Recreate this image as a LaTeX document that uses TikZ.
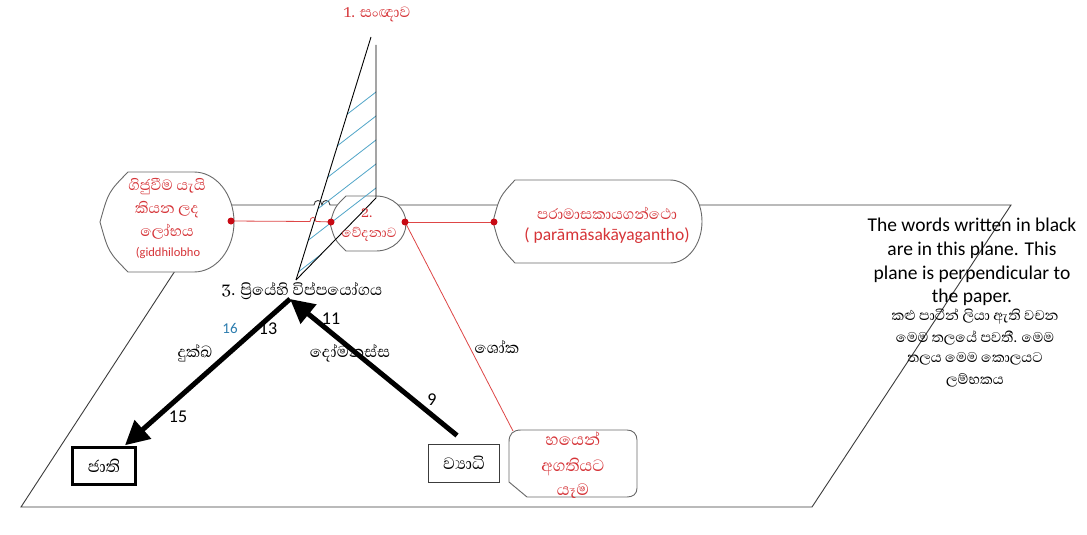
\documentclass[tikz,border=0pt]{standalone}
\usepackage{fontspec}
\setmainfont{Carlito}
\newfontfamily\sinhfont[Script=Sinhala]{Abhaya Libre}
\usetikzlibrary{arrows.meta,calc}
\definecolor{redtxt}{RGB}{214,52,56}
\definecolor{reddot}{RGB}{200,10,20}
\definecolor{redline}{RGB}{222,70,70}
\definecolor{hatchc}{RGB}{80,165,200}
\definecolor{outl}{RGB}{105,105,105}
\definecolor{planec}{RGB}{60,60,60}
\definecolor{numblue}{RGB}{45,125,175}
\newcommand{\dispshape}[7]{%
 \draw[#1] ({#2},{(#3+#5)/2}) .. controls ({#2+0.3*#6},{#3+0.2*(#5-#3)}) .. ({#2+#6},#3)
  -- ({#4-#7},#3) .. controls ({#4-0.448*#7},#3) and (#4,{(#3+#5)/2-0.276*(#5-#3)}) .. (#4,{(#3+#5)/2})
  .. controls (#4,{(#3+#5)/2+0.276*(#5-#3)}) and ({#4-0.448*#7},#5) .. ({#4-#7},#5)
  -- ({#2+#6},#5) .. controls ({#2+0.3*#6},{#5-0.2*(#5-#3)}) .. ({#2},{(#3+#5)/2}) -- cycle;}
\begin{document}
\begin{tikzpicture}[x=1pt,y=-1pt,
  planeline/.style={draw=planec,line width=0.9pt},
  shapeline/.style={draw=outl,line width=0.9pt,fill=white},
  redconn/.style={draw=redline,line width=0.8pt},
  rdot/.style={circle,fill=reddot,inner sep=0pt,minimum size=7pt},
  redsin/.style={font=\sinhfont\fontsize{19}{21}\selectfont,text=redtxt,inner sep=0pt},
  redlat/.style={font=\fontsize{12.5}{14}\selectfont,text=redtxt,inner sep=0pt},
  blacksin/.style={font=\sinhfont\fontsize{20}{22}\selectfont,text=black,inner sep=0pt},
  numlab/.style={font=\fontsize{18}{20}\selectfont,inner sep=0pt},
  engline/.style={font=\fontsize{19.5}{21}\selectfont,inner sep=0pt},
  sinline/.style={font=\sinhfont\fontsize{18}{20}\selectfont,inner sep=0pt},
  boxtext/.style={font=\sinhfont\fontsize{21}{23}\selectfont},
  bigarrow/.style={line width=5pt,-{Triangle[length=24pt,width=24pt]}},
  hatchline/.style={draw=hatchc,line width=0.8pt}]
\useasboundingbox (0,0) rectangle (1087,535);
\fill[white] (0,0) rectangle (1087,535);
% plane
\coordinate (ptl) at (218,205);
\coordinate (ptr) at (1011,205);
\coordinate (pbr) at (812,507);
\coordinate (pbl) at (21,507);
\draw[planeline] (ptl) -- (314,205) .. controls (314,199) and (322,199) .. (322,205)
  .. controls (322,199) and (330,199) .. (330,205) -- (ptr) -- (pbr) -- (pbl) -- cycle;
% red connector lobha -> vedana (with hop)
\coordinate (d1) at (231,221);
\coordinate (d2) at (331,222);
\coordinate (d3) at (405,222);
\coordinate (d4) at (494,222);
\draw[redconn] (d1) -- (310,221.5) .. controls (310,216) and (316,216) .. (316,221.5) -- (d2);
\draw[redconn] (d3) -- (d4);
% shapes
\dispshape{shapeline}{100}{172}{234}{272}{28}{40}
\dispshape{shapeline}{330}{196}{406}{251}{16}{30}
\dispshape{shapeline}{493}{180}{702}{263}{22}{32}
% bhayena box
\draw[shapeline] (509,442) .. controls (509,434) and (513,430) .. (521,430) -- (627,430)
  .. controls (633,430) and (637,434) .. (637,440) -- (637,488) .. controls (637,494) and (633,497) .. (627,497)
  -- (527,497) -- (509,482) -- cycle;
\coordinate (bhtop) at (513,431);
\draw[redconn] (d3) -- (bhtop);
% triangle hatch
\begin{scope}
\clip (371,37) -- (376,45) -- (376,198) -- (296,280) -- cycle;
\foreach \k in {0,...,12} {
  \draw[hatchline] (386,{92+24*\k-7.7}) -- (236,{92+24*\k+108});
}
\end{scope}
\draw[line width=0.9pt] (371,37) -- (296,280);
\draw[line width=0.9pt] (376,45) -- (376,198) -- (296,280);
% dots
\node[rdot] at (d1) {};
\node[rdot] at (d2) {};
\node[rdot] at (d3) {};
\node[rdot] at (d4) {};
% texts
\node[redsin] (t1) at (377,14) {1. සංඥාව};
\node[redsin] (lb1) at (167,187) {ගිජුවීම යැයි};
\node[redsin] (lb2) at (167,210) {කියන ලද};
\node[redsin] (lb3) at (167,232) {ලෝභය};
\node[redlat] (lb4) at (168,253) {(giddhilobho};
\node[redsin,font=\sinhfont\fontsize{17}{19}\selectfont] (v1) at (367,213) {2.};
\node[redsin,font=\sinhfont\fontsize{17}{19}\selectfont] (v2) at (369,234) {වේදනාව};
\node[redsin] (pm1) at (607,213) {පරාමාසකායගන්ථො};
\node[redlat,font=\fontsize{17.5}{19}\selectfont] (pm2) at (607,236) {( parāmāsakāyagantho)};
\node[redsin,font=\sinhfont\fontsize{21}{23}\selectfont] (bh1) at (573,439) {හයෙන්};
\node[redsin,font=\sinhfont\fontsize{21}{23}\selectfont] (bh2) at (573,467) {අගතියට};
\node[redsin,font=\sinhfont\fontsize{21}{23}\selectfont] (bh3) at (573,491) {යෑම};
% boxes
\node[draw=black,line width=2.5pt,minimum width=63pt,minimum height=37pt,inner sep=0pt,boxtext] (jati) at (104,466) {ජාති};
\node[draw=planec,line width=1pt,minimum width=71pt,minimum height=38pt,inner sep=0pt,boxtext] (vyadi) at (464,463) {ව්^^^^200dයාධි};
% arrows
\coordinate (apex) at (290,299);
\draw[bigarrow] (apex) -- ($(jati.north)+(21,-1)$);
\draw[bigarrow] ($(vyadi.north)+(-7,-8)$) -- (apex);
% black labels
\node[blacksin] (l3) at (302,291) {3. ප්^^^^200dරියේහි විප්පයෝගය};
\node[blacksin] (dk) at (195,353) {දුක්ඛ};
\node[blacksin] (dm) at (350,353) {දෝමනස්ස};
\node[blacksin] (sk) at (497,347) {ශෝක};
\node[numlab] (n13) at (268,329) {13};
\node[numlab,text=numblue,font=\fontsize{15}{17}\selectfont] (n16) at (230,328) {16};
\node[numlab] (n11) at (331,319) {11};
\node[numlab] (n15) at (178,417) {15};
\node[numlab] (n9) at (432,400) {9};
% right text
\node[engline] (r1) at (972,225) {The words written in black};
\node[engline] (r2) at (972,250) {are in this plane. This};
\node[engline] (r3) at (972,274) {plane is perpendicular to};
\node[engline] (r4) at (972,297) {the paper.};
\node[sinline] (r5) at (975,317) {කළු පාටින් ලියා ඇති වචන};
\node[sinline] (r6) at (975,338) {මෙම තලයේ පවතී. මෙම};
\node[sinline] (r7) at (975,359) {තලය මෙම කොලයට};
\node[sinline] (r8) at (975,380) {ලම්භකය};
\end{tikzpicture}
\end{document}
